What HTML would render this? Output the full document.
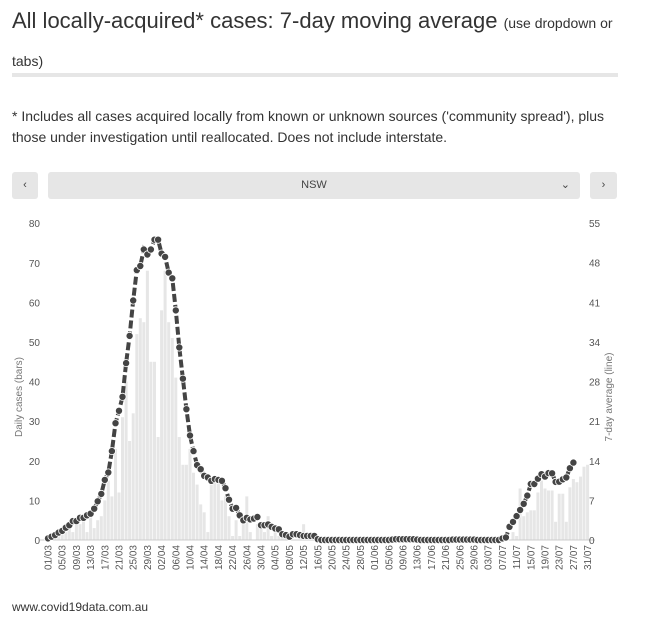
<!DOCTYPE html>
<html><head><meta charset="utf-8"><style>
body{margin:0;width:660px;height:617px;background:#fff;font-family:"Liberation Sans",sans-serif;color:#333;position:relative;overflow:hidden}
.t{position:absolute;left:12px;top:3px;width:610px;font-size:22px;line-height:36px;color:#333}
.t small{font-size:14px}
.rule{position:absolute;left:12px;top:73px;width:606px;height:4px;background:#e6e6e6}
.note{position:absolute;left:12px;top:106px;width:620px;font-size:14px;line-height:21px;color:#333}
.btn{position:absolute;top:172px;height:27px;background:#e6e6e6;border-radius:3px;font-size:11px;color:#444;text-align:center;line-height:27px}
.foot{position:absolute;left:12px;top:600px;font-size:12px;color:#333}
</style></head><body>
<div class="t">All locally-acquired* cases: 7-day moving average <small>(use dropdown or</small><br><small>tabs)</small></div>
<div class="rule"></div>
<div class="note">* Includes all cases acquired locally from known or unknown sources ('community spread'), plus those under investigation until reallocated. Does not include interstate.</div>
<div class="btn" style="left:12px;width:26px">‹</div>
<div class="btn" style="left:48px;width:532px">NSW<span style="position:absolute;right:10px">⌄</span></div>
<div class="btn" style="left:590px;width:27px">›</div>
<svg id="c" width="660" height="617" style="position:absolute;left:0;top:0"></svg>
<div class="foot">www.covid19data.com.au</div>
<script>
var b=[0,0,1,1,2,2,3,2,4,4,6,2,6,3,5,6,10,15,11,23,12,31,40,25,32,52,56,55,68,45,45,26,58,68,55,51,41,26,19,19,23,17,14,9,7,2,14,15,15,10,11,6,1,5,1,4,11,2,0,4,3,2,6,1,2,1,1,1,1,0,0,0,4,1,0];
while(b.length<131)b.push(0);
b[100]=0.5;b[101]=0.5;b[117]=0.5;
b=b.concat([2,1,13,6,7,7.5,7.5,12,15,13,12.5,12.5,4.6,11.7,11.7,4.6,13.3,15.4,14.6,16,18.5,19]);
var X0=48,DX=3.55,Y0=540,SL=3.96,SR=5.76,s='';
for(var i=0;i<b.length;i++){if(b[i]>0){var h=b[i]*SL;s+='<rect x="'+(X0+i*DX-1.5).toFixed(1)+'" y="'+(Y0-h).toFixed(1)+'" width="3" height="'+h.toFixed(1)+'" fill="#e6e6e6"/>';}}
s+='<line x1="40" y1="540" x2="595" y2="540" stroke="#ccc"/>';
for(var v=0;v<=80;v+=10)s+='<text x="40" y="'+(Y0-v*SL+4)+'" font-size="10" fill="#555" text-anchor="end">'+v+'</text>';
[0,7,14,21,28,34,41,48,55].forEach(function(v,k){s+='<text x="589" y="'+(Y0-k*(317/8)+4)+'" font-size="10" fill="#555">'+v+'</text>';});
s+='<text transform="translate(22,397) rotate(-90)" font-size="10" fill="#777" text-anchor="middle">Daily cases (bars)</text>';
s+='<text transform="translate(612,397) rotate(-90)" font-size="10" fill="#777" text-anchor="middle">7-day average (line)</text>';
for(var i=0;i<=152;i+=4){var dt=new Date(2020,2,1+i);var l=('0'+dt.getDate()).slice(-2)+'/'+('0'+(dt.getMonth()+1)).slice(-2);
s+='<text transform="translate('+(X0+i*DX+3.5)+',545) rotate(-90)" font-size="10" fill="#555" text-anchor="end">'+l+'</text>';}
var pts=[];for(var i=0;i<=148;i++){var sum=0;for(var j=i-3;j<=i+3;j++){if(j>=0&&j<b.length)sum+=b[j];}var a=sum/7;pts.push([X0+i*DX,Y0-a*SR]);}
s+='<polyline fill="none" stroke="#444" stroke-width="4" stroke-dasharray="8 3" points="'+pts.map(function(p){return p[0].toFixed(1)+','+p[1].toFixed(1)}).join(' ')+'"/>';
pts.forEach(function(p){s+='<circle cx="'+p[0].toFixed(1)+'" cy="'+p[1].toFixed(1)+'" r="3.6" fill="#444" stroke="#fff" stroke-width="0.8"/>';});
document.getElementById('c').innerHTML=s;
</script>
</body></html>
